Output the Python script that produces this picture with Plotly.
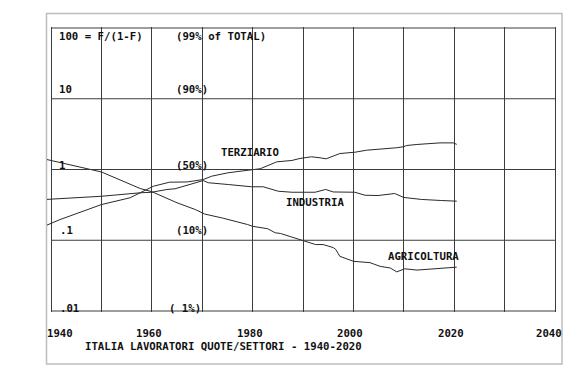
import math
import plotly.graph_objects as go

# ---------------- data (shares of employed, %) ----------------
years_agr = [1939.0, 1950.0, 1957.7, 1960.0, 1965.0, 1968.6, 1970.5, 1974.0, 1979.0, 1980.0,
             1983.0, 1984.5, 1985.5, 1990.0, 1992.5, 1994.0, 1996.0, 1996.5, 1997.3, 2000.0,
             2003.3, 2005.3, 2007.3, 2008.6, 2010.2, 2012.6, 2016.5, 2020.5]
share_agr = [58.2, 48.0, 35.0, 32.7, 25.3, 21.4, 19.0, 17.1, 14.3, 13.6,
             12.7, 11.3, 11.1, 8.9, 8.0, 8.0, 7.3, 6.9, 5.6, 4.8,
             4.6, 4.1, 3.9, 3.45, 3.8, 3.65, 3.8, 4.0]

years_ind = [1939.0, 1950.0, 1957.7, 1960.0, 1963.0, 1964.6, 1970.2, 1971.2, 1975.2, 1979.8,
             1982.1, 1985.1, 1987.8, 1992.4, 1994.5, 1996.0, 2000.3, 2002.3, 2004.9, 2008.2,
             2010.0, 2013.5, 2017.5, 2020.5]
share_ind = [27.4, 29.5, 31.9, 32.3, 34.3, 34.8, 41.1, 39.4, 38.0, 36.3,
             36.3, 33.0, 32.3, 32.3, 34.3, 32.5, 32.3, 30.2, 30.0, 31.4,
             28.7, 27.4, 26.7, 26.3]

years_ter = [1939.0, 1941.8, 1950.0, 1955.7, 1960.3, 1963.5, 1967.0, 1970.2, 1971.9, 1975.1,
             1977.5, 1979.8, 1981.5, 1984.8, 1987.8, 1989.4, 1991.7, 1993.4, 1994.6, 1997.3,
             2000.3, 2002.6, 2006.6, 2008.6, 2009.9, 2010.6, 2012.6, 2014.2, 2017.2, 2019.8, 2020.5]
share_ter = [13.9, 16.4, 24.2, 28.5, 36.7, 39.8, 40.0, 41.9, 44.6, 47.3,
             48.6, 50.0, 50.6, 56.2, 57.3, 58.9, 60.2, 59.4, 58.6, 62.7,
             63.7, 65.2, 66.2, 67.0, 67.7, 68.6, 69.3, 69.8, 70.4, 70.4, 69.4]

x_ticks = [1940, 1950, 1960, 1970, 1980, 1990, 2000, 2010, 2020, 2030, 2040]
x_tick_labels = ["1940", "", "1960", "", "1980", "", "2000", "", "2020", "", "2040"]
y_levels = [100, 10, 1, 0.1, 0.01]
y_labels = ["100 = F/(1-F)", "10", "1", ".1", ".01"]
pct_labels = ["(99% of TOTAL)", "(90%)", "(50%)", "(10%)", "( 1%)"]
series_names = ["AGRICOLTURA", "INDUSTRIA", "TERZIARIO"]
title_text = "ITALIA LAVORATORI QUOTE/SETTORI - 1940-2020"


def odds(shares):
    return [s / (100.0 - s) for s in shares]


# ---------------- geometry ----------------
W, H = 576, 380
ML, MR, MT, MB = 47, 14, 27, 68
PW = W - ML - MR
PH = H - MT - MB
X_RANGE = [1939.206, 2041.389]
Y_RANGE = [-2.0141, 2.0141]

FONT = "DejaVu Sans Mono"
FS = 10.7
TXT = "#111111"
LINE = "#2a2a2a"
GRID = "#3c3c3c"


def px2paper_x(px):
    return (px - ML) / PW


def px2paper_y(py):
    return (H - MB - py) / PH


fig = go.Figure()
for yrs, sh in [(years_agr, share_agr), (years_ind, share_ind), (years_ter, share_ter)]:
    fig.add_trace(go.Scatter(x=yrs, y=odds(sh), mode="lines",
                             line=dict(color=LINE, width=1), hoverinfo="skip",
                             showlegend=False))

shapes = []
# horizontal grid / box lines, only between 1940 and 2040
for v in y_levels:
    shapes.append(dict(type="line", xref="x", yref="y", x0=x_ticks[0], x1=x_ticks[-1],
                       y0=v, y1=v, line=dict(color=GRID, width=1), layer="above"))
# outer light frame
shapes.append(dict(type="rect", xref="paper", yref="paper",
                   x0=px2paper_x(46.5), x1=px2paper_x(562), y0=px2paper_y(364), y1=px2paper_y(13.5),
                   line=dict(color="#bdbdbd", width=1.5), layer="below"))

annotations = []
lab_y_px = [36, 89, 165, 230, 308]
lab_x_px = [59, 59, 59, 60, 60]
pct_x_px = [176, 176, 176, 176, 169]
for i in range(len(y_levels)):
    annotations.append(dict(text=y_labels[i], xref="paper", yref="paper",
                            x=px2paper_x(lab_x_px[i] - 2), y=px2paper_y(lab_y_px[i]),
                            xanchor="left", yanchor="middle", showarrow=False))
    annotations.append(dict(text=pct_labels[i], xref="paper", yref="paper",
                            x=px2paper_x(pct_x_px[i] - 2), y=px2paper_y(lab_y_px[i]),
                            xanchor="left", yanchor="middle", showarrow=False))

for i, (xv, t) in enumerate(zip(x_ticks, x_tick_labels)):
    if not t:
        continue
    if i == 0:
        annotations.append(dict(text=t, xref="x", yref="paper", x=X_RANGE[0], y=px2paper_y(333),
                                xanchor="left", yanchor="middle", showarrow=False, xshift=-2))
    elif i == len(x_ticks) - 1:
        annotations.append(dict(text=t, xref="x", yref="paper", x=X_RANGE[1], y=px2paper_y(333),
                                xanchor="right", yanchor="middle", showarrow=False, xshift=2))
    else:
        annotations.append(dict(text=t, xref="x", yref="paper", x=xv, y=px2paper_y(333),
                                xanchor="center", yanchor="middle", showarrow=False, xshift=-3))

annotations.append(dict(text=title_text, xref="paper", yref="paper",
                        x=px2paper_x(83), y=px2paper_y(346),
                        xanchor="left", yanchor="middle", showarrow=False))

series_lab_pos = [(423, 256), (314.5, 203), (250, 152.5)]
for name, (lx, ly) in zip(series_names, series_lab_pos):
    annotations.append(dict(text=name, xref="paper", yref="paper",
                            x=px2paper_x(lx), y=px2paper_y(ly),
                            xanchor="center", yanchor="middle", showarrow=False))

fig.update_layout(
    width=W, height=H,
    margin=dict(l=ML, r=MR, t=MT, b=MB, pad=0),
    paper_bgcolor="white", plot_bgcolor="white",
    font=dict(family=FONT, size=FS, color=TXT, weight="bold"),
    showlegend=False,
    xaxis=dict(range=X_RANGE, tickmode="array", tickvals=x_ticks, showticklabels=False,
               showgrid=True, gridcolor=GRID, gridwidth=1, zeroline=False, showline=False,
               ticks="", fixedrange=True),
    yaxis=dict(type="log", range=Y_RANGE, showticklabels=False, showgrid=False,
               zeroline=False, showline=False, ticks="", fixedrange=True),
    shapes=shapes,
    annotations=annotations,
)

fig.write_html("out.html", config={"displayModeBar": False},
               post_script="document.body.style.margin='0';document.body.style.padding='0';")
